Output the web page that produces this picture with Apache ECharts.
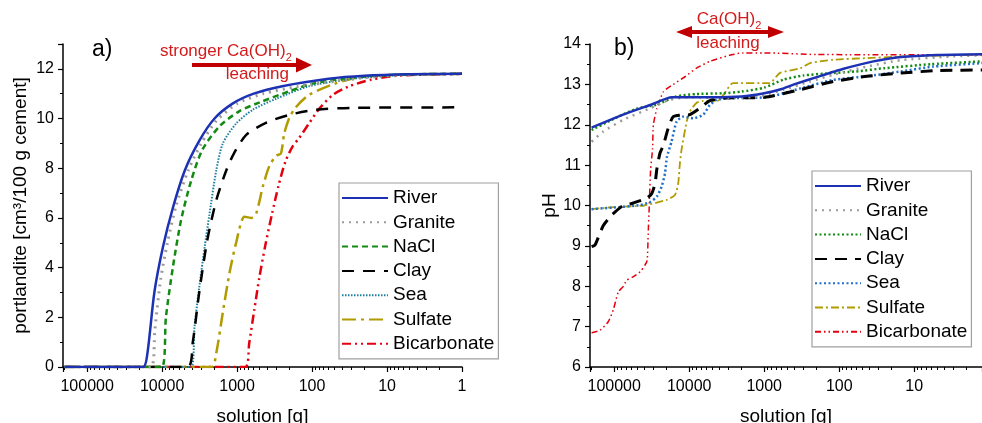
<!DOCTYPE html>
<html>
<head>
<meta charset="utf-8">
<script src="https://cdn.jsdelivr.net/npm/echarts@6/dist/echarts.min.js"></script>
<style>
  html, body { margin: 0; padding: 0; background: #fff; }
  #main { width: 982px; height: 423px; }
</style>
</head>
<body>
<div id="main"></div>
<script>
const names = ['River', 'Granite', 'NaCl', 'Clay', 'Sea', 'Sulfate', 'Bicarbonate'];
const xTicks = [100000, 10000, 1000, 100, 10, 1];

// a) portlandite [cm3/100 g cement] vs solution [g]
const riverA = [[200000,0],[18000,0],[15800,0.5],[12700,3.0],[9800,4.8],[7200,6.4],[5000,7.9],[3200,9.1],[2000,10.0],[1150,10.6],[600,11.0],[250,11.3],[60,11.6],[20,11.72],[5,11.78],[1,11.8]];
const graniteA = [[200000,0],[14000,0],[12500,1.5],[10500,3.5],[8500,5.0],[6500,6.5],[4500,7.9],[3000,9.0],[1900,9.9],[1000,10.6],[450,11.0],[150,11.3],[50,11.5],[15,11.68],[4,11.77],[1,11.8]];
const naclA = [[200000,0],[10100,0],[8900,2.0],[7200,4.0],[5600,5.9],[4100,7.5],[2900,8.75],[1700,9.7],[930,10.3],[500,10.65],[200,11.1],[100,11.4],[40,11.6],[15,11.72],[5,11.78],[1,11.8]];
const clayA = [[200000,0],[4600,0],[3900,1.0],[3200,3.0],[2500,5.1],[1900,6.7],[1400,7.9],[1100,8.6],[750,9.35],[400,9.85],[200,10.15],[90,10.35],[30,10.43],[1,10.45]];
const seaA = [[200000,0],[4100,0],[3700,1.6],[3200,3.2],[2700,4.85],[2350,6.1],[1900,7.9],[1550,9.0],[1030,9.8],[620,10.35],[300,10.8],[110,11.3],[30,11.6],[5,11.77],[1,11.8]];
const sulfateA = [[200000,0],[2200,0],[1900,0.55],[1550,2.2],[1260,3.8],[1030,5.0],[800,6.05],[650,6.0],[560,6.15],[450,7.3],[370,8.1],[300,8.5],[260,8.6],[235,9.4],[200,10.05],[165,10.45],[110,10.95],[50,11.4],[25,11.65],[10,11.75],[1,11.8]];
const bicarbA = [[200000,0],[780,0],[690,0.95],[590,2.3],[505,3.6],[420,4.9],[340,6.2],[280,7.3],[225,8.3],[180,8.9],[150,9.2],[110,9.8],[80,10.4],[53,10.95],[32,11.3],[16,11.57],[7,11.73],[1,11.8]];

// b) pH vs solution [g]
const riverB = [[200000,11.93],[76000,12.25],[33000,12.49],[17000,12.68],[5000,12.68],[2000,12.7],[1000,12.78],[600,12.88],[400,13.0],[200,13.18],[90,13.38],[35,13.57],[15,13.68],[5,13.73],[1,13.75]];
const graniteB = [[200000,11.58],[140000,11.83],[76000,12.12],[33000,12.41],[18000,12.62],[10000,12.68],[3000,12.66],[1200,12.7],[550,12.87],[245,13.07],[120,13.24],[43,13.44],[15,13.6],[3.3,13.69],[1,13.73]];
const naclB = [[200000,11.87],[100000,12.15],[50000,12.4],[27000,12.5],[15000,12.7],[8000,12.76],[3500,12.78],[2000,12.82],[1000,12.92],[550,13.12],[300,13.22],[150,13.27],[60,13.32],[25,13.4],[6,13.5],[1,13.58]];
const clayB = [[200000,8.98],[180000,9.02],[140000,9.5],[108000,9.76],[76000,10.0],[58000,10.05],[37000,10.18],[31500,10.3],[28500,10.55],[27000,10.9],[24500,11.3],[22000,11.5],[19000,11.92],[16300,12.2],[12000,12.24],[9800,12.25],[7200,12.41],[5300,12.6],[3500,12.66],[1000,12.68],[330,12.87],[120,13.07],[43,13.2],[15,13.28],[5,13.34],[1,13.36]];
const seaB = [[200000,9.91],[100000,9.95],[45000,10.01],[33000,10.09],[27000,10.22],[23300,10.47],[21000,10.8],[19800,11.2],[17200,11.58],[14700,12.08],[12000,12.2],[8800,12.16],[6500,12.25],[5300,12.49],[4300,12.62],[2800,12.66],[930,12.68],[330,12.9],[120,13.11],[43,13.2],[15,13.32],[5.6,13.44],[1,13.54]];
const sulfateB = [[200000,9.91],[100000,9.96],[40000,10.0],[20000,10.14],[15500,10.26],[14000,10.55],[13300,11.05],[12600,11.4],[10800,12.08],[9800,12.33],[8000,12.54],[6500,12.59],[4300,12.58],[3500,12.74],[2600,13.03],[850,13.03],[620,13.28],[330,13.4],[240,13.53],[120,13.61],[43,13.65],[15,13.69],[1,13.74]];
const bicarbB = [[200000,6.85],[155000,6.91],[120000,7.12],[103000,7.41],[88000,7.86],[76000,7.99],[68000,8.15],[56000,8.23],[45000,8.36],[39000,8.52],[36300,8.64],[35200,9.3],[34100,9.97],[32700,10.88],[30800,11.4],[30000,12.0],[27000,12.4],[22000,12.82],[16300,13.0],[12000,13.16],[8000,13.4],[5300,13.57],[2900,13.72],[1900,13.78],[1000,13.78],[200,13.74],[1,13.73]];

const dataA = [riverA, graniteA, naclA, clayA, seaA, sulfateA, bicarbA];
const dataB = [riverB, graniteB, naclB, clayB, seaB, sulfateB, bicarbB];

const styleA = [
  { color: '#1c31b3', type: 'solid', width: 2.5 },
  { color: '#9a9a9a', type: [2, 5], width: 3 },
  { color: '#138a13', type: [6, 4], width: 2.5 },
  { color: '#000000', type: [12, 9], width: 2.5 },
  { color: '#1a7fa0', type: [1.5, 1.5], width: 2 },
  { color: '#b09b00', type: [14, 5, 3, 5], width: 2.5 },
  { color: '#e3000f', type: [9, 4, 2, 4, 2, 4], width: 2.5 }
];
const styleB = [
  { color: '#1c31b3', type: 'solid', width: 2.5 },
  { color: '#9a9a9a', type: [2, 5], width: 2.5 },
  { color: '#138a13', type: [2, 2.5], width: 2.5 },
  { color: '#000000', type: [12, 8], width: 3 },
  { color: '#1f6fcc', type: [2, 2.5], width: 2.5 },
  { color: '#b09b00', type: [8, 3, 2, 3], width: 1.8 },
  { color: '#e3000f', type: [6, 3, 1.5, 3, 1.5, 3], width: 1.5 }
];

const font = 'Liberation Sans, Arial, sans-serif';
var chartDom = document.getElementById('main');
var myChart = echarts.init(chartDom);

function xAxis(gridIndex, min) {
  return {
    type: 'log', logBase: 10, gridIndex: gridIndex, inverse: true,
    min: min, max: 210000,
    name: 'solution [g]', nameLocation: 'middle', nameGap: 40,
    nameTextStyle: { fontSize: 19, fontFamily: font, color: '#000' },
    axisLine: { lineStyle: { color: '#000', width: 1.5 } },
    axisTick: { length: 5, lineStyle: { color: '#000', width: 1.2 } },
    minorTick: { show: true, splitNumber: 9, length: 3, lineStyle: { color: '#000', width: 1 } },
    splitLine: { show: false },
    axisLabel: {
      fontSize: 16, fontFamily: font, color: '#000', margin: 12,
      showMaxLabel: false, showMinLabel: gridIndex === 0,
      formatter: function (v) {
        var r = Math.round(v);
        return xTicks.indexOf(r) >= 0 ? String(r) : '';
      }
    }
  };
}
function yAxis(gridIndex, min, max, interval, name, gap) {
  return {
    type: 'value', gridIndex: gridIndex, min: min, max: max, interval: interval,
    name: name, nameLocation: 'middle', nameGap: gap,
    nameTextStyle: { fontSize: 19, fontFamily: font, color: '#000' },
    axisLine: { show: true, lineStyle: { color: '#000', width: 1.5 } },
    axisTick: { show: true, length: 5, lineStyle: { color: '#000', width: 1.2 } },
    minorTick: { show: true, splitNumber: 2, length: 3, lineStyle: { color: '#000', width: 1 } },
    splitLine: { show: false },
    axisLabel: { fontSize: 16, fontFamily: font, color: '#000', margin: 9, showMaxLabel: gridIndex === 1 }
  };
}

const series = [];
names.forEach(function (n, i) {
  series.push({
    name: n, type: 'line', xAxisIndex: 0, yAxisIndex: 0, data: dataA[i],
    symbol: 'none', smooth: 0.25, lineStyle: styleA[i], itemStyle: { color: styleA[i].color },
    z: 10 - i
  });
});
names.forEach(function (n, i) {
  series.push({
    name: n + ' (b)', type: 'line', xAxisIndex: 1, yAxisIndex: 1, data: dataB[i],
    symbol: 'none', smooth: 0.2, lineStyle: styleB[i], itemStyle: { color: styleB[i].color },
    z: 10 - i
  });
});

function legend(left, top, data) {
  return {
    data: data, orient: 'vertical', left: left, top: top,
    itemWidth: 46, itemHeight: 14, itemGap: 4.3,
    padding: [5, 4, 5, 2],
    borderColor: '#a0a0a0', borderWidth: 1.2, backgroundColor: '#fff',
    selectedMode: false,
    itemStyle: { opacity: 0 },
    textStyle: { fontSize: 19, fontFamily: font, color: '#000', lineHeight: 20 },
    formatter: function (n) { return n.replace(' (b)', ''); }
  };
}

var option = {
  animation: false,
  backgroundColor: '#fff',
  grid: [
    { left: 63, right: 520, top: 44, bottom: 56, outerBoundsMode: 'none' },
    { left: 590, right: 0, top: 44, bottom: 56, outerBoundsMode: 'none' }
  ],
  xAxis: [xAxis(0, 1), xAxis(1, 1.25)],
  yAxis: [
    yAxis(0, 0, 13, 2, 'portlandite [cm³/100 g cement]', 33),
    yAxis(1, 6, 14, 1, 'pH', 27)
  ],
  legend: [
    legend(339, 183, names),
    legend(812, 171, names.map(function (n) { return n + ' (b)'; }))
  ],
  series: series,
  graphic: [
    { type: 'text', style: { text: 'a)', x: 92, y: 50, font: '23px ' + font, fill: '#000', textVerticalAlign: 'middle' } },
    { type: 'text', style: { text: 'b)', x: 614, y: 49, font: '23px ' + font, fill: '#000', textVerticalAlign: 'middle' } },
    { type: 'polygon', shape: { points: [[192,63],[296,63],[296,57.5],[312,65],[296,72.5],[296,67],[192,67]] }, style: { fill: '#c00000' } },
    { type: 'text', style: {
        text: '{t|stronger Ca(OH)}{s|2}', x: 160, y: 51, fill: '#d41a1a', textVerticalAlign: 'middle',
        rich: { t: { fontSize: 17, fontFamily: font, fill: '#d41a1a', verticalAlign: 'bottom' },
                s: { fontSize: 11, fontFamily: font, fill: '#d41a1a', verticalAlign: 'bottom', padding: [0, 0, -4, 0] } } } },
    { type: 'text', style: { text: 'leaching', x: 289, y: 74, font: '17px ' + font, fill: '#d41a1a', textAlign: 'right', textVerticalAlign: 'middle' } },
    { type: 'polygon', shape: { points: [[676,32],[692,26],[692,30],[768,30],[768,26],[784,32],[768,38],[768,34],[692,34],[692,38]] }, style: { fill: '#c00000' } },
    { type: 'text', style: {
        text: '{t|Ca(OH)}{s|2}', x: 729, y: 19, fill: '#d41a1a', textAlign: 'center', textVerticalAlign: 'middle',
        rich: { t: { fontSize: 17, fontFamily: font, fill: '#d41a1a', verticalAlign: 'bottom' },
                s: { fontSize: 11, fontFamily: font, fill: '#d41a1a', verticalAlign: 'bottom', padding: [0, 0, -4, 0] } } } },
    { type: 'text', style: { text: 'leaching', x: 728, y: 43, font: '17px ' + font, fill: '#d41a1a', textAlign: 'center', textVerticalAlign: 'middle' } }
  ]
};

option && myChart.setOption(option);
window.addEventListener('resize', myChart.resize);
</script>
</body>
</html>
